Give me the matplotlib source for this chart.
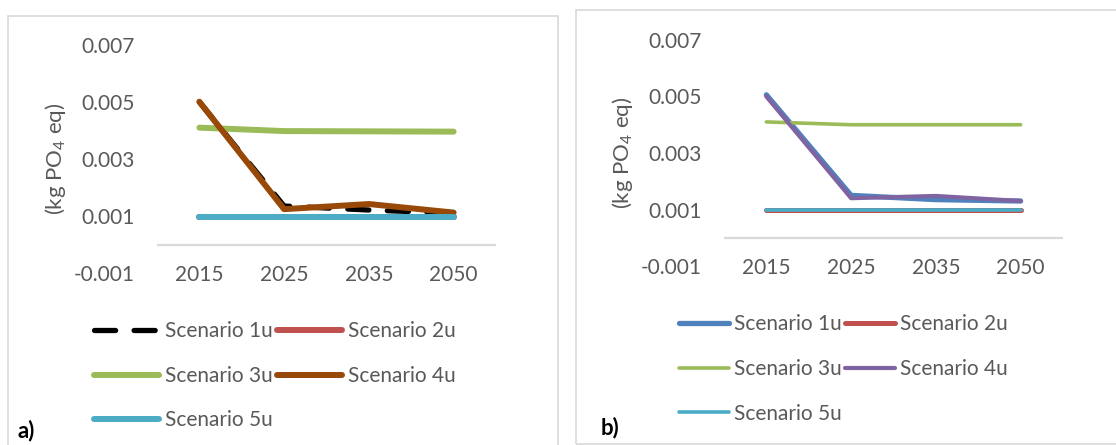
import matplotlib
matplotlib.use("Agg")
import matplotlib.pyplot as plt
from matplotlib.patches import Rectangle

plt.rcParams['font.family'] = ['Lato', 'DejaVu Sans']
plt.rcParams['mathtext.fontset'] = 'custom'
plt.rcParams['mathtext.rm'] = 'Lato'
plt.rcParams['mathtext.it'] = 'Lato:italic'

years = ['2015', '2025', '2035', '2050']
scenarios = ['Scenario 1u', 'Scenario 2u', 'Scenario 3u', 'Scenario 4u', 'Scenario 5u']
yticks = [-0.001, 0.001, 0.003, 0.005, 0.007]

# panel a)
a_s1 = [0.0050, 0.00135, 0.00121, 0.0011]
a_s2 = [0.00097, 0.00097, 0.00097, 0.00097]
a_s3 = [0.0041, 0.00398, 0.00397, 0.00396]
a_s4 = [0.00501, 0.00124, 0.00142, 0.00112]
a_s5 = [0.00098, 0.00098, 0.00098, 0.00098]

# panel b)
b_s1 = [0.00506, 0.0015, 0.00135, 0.0013]
b_s2 = [0.00098, 0.00098, 0.00098, 0.00098]
b_s3 = [0.0041, 0.0040, 0.0040, 0.0040]
b_s4 = [0.0050, 0.0014, 0.00148, 0.0013]
b_s5 = [0.00098, 0.00098, 0.00098, 0.00098]

W, H = 1116, 445
fig = plt.figure(figsize=(W / 100, H / 100), dpi=100)
txt = '#595959'
grid_c = '#D9D9D9'
fs = 15


def px_axes(x0, x1, ytop, ybot):
    return fig.add_axes([x0 / W, 1 - ybot / H, (x1 - x0) / W, (ybot - ytop) / H])


def style(ax):
    ax.set_xlim(-0.5, 3.5)
    ax.set_ylim(-0.001, 0.007)
    for s in ax.spines.values():
        s.set_visible(False)
    ax.axhline(0, color=grid_c, lw=1.6, zorder=0)
    ax.set_yticks(yticks)
    ax.set_yticklabels(['-0.001', '0.001', '0.003', '0.005', '0.007'])
    ax.set_xticks(range(len(years)))
    ax.set_xticklabels(years)
    ax.tick_params(axis='y', length=0, pad=16, labelsize=fs, labelcolor=txt)
    ax.tick_params(axis='x', length=0, pad=-6, labelsize=fs, labelcolor=txt)
    ax.set_ylabel('(kg PO$_4$ eq)', fontsize=16, color=txt)
    ax.yaxis.set_label_coords(-0.262, 0.5)
    ax.patch.set_alpha(0)


# frames
fig.patches.append(Rectangle((8 / W, -0.01), 550 / W, 1 - 16 / H + 0.01, transform=fig.transFigure,
                             fill=False, ec=grid_c, lw=1.2))
fig.patches.append(Rectangle((576 / W, 1 / H), 545 / W, 1 - 11 / H, transform=fig.transFigure,
                             fill=False, ec=grid_c, lw=1.2))

# panel a
ax1 = px_axes(157, 496, 45, 273)
x = range(len(years))
l1, = ax1.plot(x, a_s1, color='black', lw=3.8, dashes=(4, 3.5), dash_capstyle='round')
l2, = ax1.plot(x, a_s2, color='#C0504D', lw=4.3, solid_capstyle='round')
l3, = ax1.plot(x, a_s3, color='#9BBB59', lw=4.3, solid_capstyle='round')
l4, = ax1.plot(x, a_s4, color='#984807', lw=4.3, solid_capstyle='round')
l5, = ax1.plot(x, a_s5, color='#4BACC6', lw=4.3, solid_capstyle='round')
style(ax1)
h = [l1, l3, l5, l2, l4]
lab = [scenarios[0], scenarios[2], scenarios[4], scenarios[1], scenarios[3]]
fig.legend(h, lab, ncol=2, loc='upper left', bbox_to_anchor=(86 / W, 1 - 313 / H),
           frameon=False, fontsize=fs, handlelength=3.1, handletextpad=0.3,
           columnspacing=0.2, labelspacing=1.18, labelcolor=txt, borderaxespad=0)
fig.text(18 / W, 1 - 431 / H, 'a)', fontsize=16, fontweight='bold', va='center', color='black')

# panel b
ax2 = px_axes(724, 1063, 40, 266)
m1, = ax2.plot(x, b_s1, color='#4F81BD', lw=3.8, solid_capstyle='round')
m2, = ax2.plot(x, b_s2, color='#C0504D', lw=3.6, solid_capstyle='round')
m3, = ax2.plot(x, b_s3, color='#9BBB59', lw=2.6, solid_capstyle='round')
m4, = ax2.plot(x, b_s4, color='#8064A2', lw=3.0, solid_capstyle='round')
m5, = ax2.plot(x, b_s5, color='#4BACC6', lw=2.6, solid_capstyle='round')
style(ax2)
h = [m1, m3, m5, m2, m4]
fig.legend(h, lab, ncol=2, loc='upper left', bbox_to_anchor=(671 / W, 1 - 306 / H),
           frameon=False, fontsize=fs, handlelength=2.4, handletextpad=0.2,
           columnspacing=0.2, labelspacing=1.18, labelcolor=txt, borderaxespad=0)
fig.text(601 / W, 1 - 428 / H, 'b)', fontsize=16, fontweight='bold', va='center', color='black')

fig.savefig('out.png', dpi=100)
